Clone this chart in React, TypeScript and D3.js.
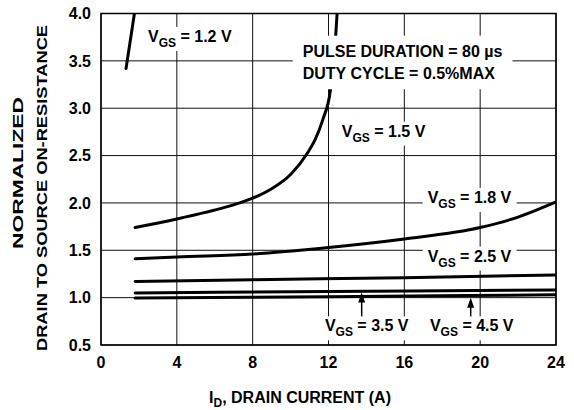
import { useEffect, useRef } from "react";
import * as d3 from "d3";

/**
 * Normalized drain-to-source on-resistance vs drain current, one curve per VGS.
 */

const W = 574;
const H = 410;
const M = { left: 101, right: 18, top: 13.5, bottom: 65 };
const FONT = "'Liberation Sans', Arial, Helvetica, sans-serif";

const X_TICKS = [0, 4, 8, 12, 16, 20, 24];
const Y_TICKS = [0.5, 1.0, 1.5, 2.0, 2.5, 3.0, 3.5, 4.0];

// [ID (A), normalized RDS(on)]
const VGS_12: [number, number][] = [[1.32, 3.42], [1.52, 3.68], [1.8, 4.05]];
const VGS_15: [number, number][] = [
  [1.8, 1.74], [4, 1.83], [5.5, 1.9], [7, 1.98], [8, 2.05], [9, 2.15], [10, 2.3],
  [10.9, 2.53], [11.3, 2.67], [11.7, 2.88], [12.1, 3.19], [12.38, 3.77], [12.47, 4.05],
];
const VGS_18: [number, number][] = [
  [1.8, 1.41], [4, 1.43], [8, 1.46], [12, 1.53], [16, 1.62], [20, 1.74], [22, 1.85], [24, 2.01],
];
const VGS_25: [number, number][] = [[1.8, 1.17], [8, 1.19], [16, 1.21], [24, 1.24]];
const VGS_35: [number, number][] = [[1.8, 1.05], [12, 1.065], [24, 1.08]];
const VGS_45: [number, number][] = [[1.8, 0.995], [12, 1.01], [24, 1.03]];

const CURVES = [VGS_12, VGS_15, VGS_18, VGS_25, VGS_35, VGS_45];

// label anchors in data units: [x, baseline y, VGS text]
const VGS_LABELS: [number, number, string][] = [
  [2.48, 3.7, "1.2"],
  [12.7, 2.7, "1.5"],
  [17.23, 2.0, "1.8"],
  [17.23, 1.38, "2.5"],
  [11.81, 0.644, "3.5"],
  [17.35, 0.644, "4.5"],
];
const NOTE_LINES = ["PULSE DURATION = 80 \u00b5s", "DUTY CYCLE = 0.5%MAX"];
const NOTE_POS: [number, number] = [10.64, 3.544];

// arrows: [x, tail y, tip y]
const ARROWS: [number, number, number][] = [
  [13.75, 0.78, 1.055],
  [19.5, 0.73, 1.0],
];

export default function App() {
  const svgRef = useRef<SVGSVGElement>(null);

  useEffect(() => {
    if (!svgRef.current) return;
    const svg = d3.select(svgRef.current);
    svg.selectAll("*").remove();

    const x = d3.scaleLinear().domain([0, 24]).range([M.left, W - M.right]);
    const y = d3.scaleLinear().domain([0.5, 4.0]).range([H - M.bottom, M.top]);

    svg.append("defs").append("clipPath").attr("id", "plot-clip")
      .append("rect")
      .attr("x", x(0)).attr("y", y(4))
      .attr("width", x(24) - x(0)).attr("height", y(0.5) - y(4));

    // grid
    const grid = svg.append("g").attr("stroke", "#111").attr("stroke-width", 1);
    X_TICKS.forEach((t) => {
      grid.append("line").attr("x1", x(t)).attr("x2", x(t)).attr("y1", y(0.5)).attr("y2", y(4));
    });
    Y_TICKS.forEach((t) => {
      grid.append("line").attr("x1", x(0)).attr("x2", x(24)).attr("y1", y(t)).attr("y2", y(t));
    });

    // curves
    const line = d3.line<[number, number]>()
      .x((d) => x(d[0]))
      .y((d) => y(d[1]))
      .curve(d3.curveMonotoneX);
    const curves = svg.append("g").attr("clip-path", "url(#plot-clip)");
    CURVES.forEach((c) => {
      curves.append("path").datum(c).attr("d", line)
        .attr("fill", "none").attr("stroke", "#000").attr("stroke-width", 3)
        .attr("stroke-linecap", "round");
    });

    // arrows
    ARROWS.forEach(([ax, y0, y1]) => {
      svg.append("line").attr("x1", x(ax)).attr("x2", x(ax))
        .attr("y1", y(y0)).attr("y2", y(y1) + 8)
        .attr("stroke", "#000").attr("stroke-width", 1.5);
      const tx = x(ax), ty = y(y1);
      svg.append("path")
        .attr("d", `M${tx},${ty} L${tx - 3.5},${ty + 10} L${tx + 3.5},${ty + 10} Z`)
        .attr("fill", "#000");
    });

    // labels with white backing
    const addBox = (g: d3.Selection<SVGGElement, unknown, null, undefined>, px: number, py: number) => {
      const node = g.node();
      if (!node) return;
      const bb = node.getBBox();
      g.insert("rect", ":first-child")
        .attr("x", bb.x - px).attr("y", bb.y - py)
        .attr("width", bb.width + 2 * px).attr("height", bb.height + 2 * py)
        .attr("fill", "#fff");
    };

    VGS_LABELS.forEach(([lx, ly, v]) => {
      const g = svg.append("g");
      const t = g.append("text")
        .attr("x", x(lx)).attr("y", y(ly))
        .attr("font-family", FONT).attr("font-weight", "bold").attr("font-size", 16);
      t.append("tspan").text("V");
      t.append("tspan").attr("font-size", 12).attr("dy", 5).text("GS");
      t.append("tspan").attr("dy", -5).text(` = ${v} V`);
      addBox(g, 5, 1);
    });

    const note = svg.append("g");
    NOTE_LINES.forEach((s, i) => {
      note.append("text")
        .attr("x", x(NOTE_POS[0])).attr("y", y(NOTE_POS[1]) + i * 22.6)
        .attr("font-family", FONT).attr("font-weight", "bold").attr("font-size", 16)
        .text(s);
    });
    addBox(note, 10, 7);

    // frame
    svg.append("rect")
      .attr("x", x(0)).attr("y", y(4))
      .attr("width", x(24) - x(0)).attr("height", y(0.5) - y(4))
      .attr("fill", "none").attr("stroke", "#000").attr("stroke-width", 1.5);

    // tick labels
    X_TICKS.forEach((t) => {
      svg.append("text")
        .attr("x", x(t)).attr("y", 368)
        .attr("text-anchor", "middle")
        .attr("font-family", FONT).attr("font-weight", "bold").attr("font-size", 16)
        .text(String(t));
    });
    Y_TICKS.forEach((t) => {
      svg.append("text")
        .attr("x", 91).attr("y", y(t))
        .attr("dy", "0.36em")
        .attr("text-anchor", "end")
        .attr("font-family", FONT).attr("font-weight", "bold").attr("font-size", 16)
        .text(d3.format(".1f")(t));
    });

    // x title
    const xt = svg.append("text")
      .attr("x", 300).attr("y", 403)
      .attr("text-anchor", "middle")
      .attr("font-family", FONT).attr("font-weight", "bold").attr("font-size", 16);
    xt.append("tspan").text("I");
    xt.append("tspan").attr("font-size", 12).attr("dy", 4).text("D");
    xt.append("tspan").attr("dy", -4).text(", DRAIN CURRENT (A)");

    // y title (stretched along its length like the original)
    svg.append("text")
      .attr("transform", "translate(23,173) rotate(-90)")
      .attr("text-anchor", "middle")
      .attr("font-family", FONT).attr("font-weight", "bold").attr("font-size", 15)
      .attr("textLength", 152).attr("lengthAdjust", "spacingAndGlyphs")
      .text("NORMALIZED");
    svg.append("text")
      .attr("transform", "translate(47,188) rotate(-90)")
      .attr("text-anchor", "middle")
      .attr("font-family", FONT).attr("font-weight", "bold").attr("font-size", 15)
      .attr("textLength", 326).attr("lengthAdjust", "spacingAndGlyphs")
      .text("DRAIN TO SOURCE ON-RESISTANCE");
  }, []);

  return (
    <svg
      ref={svgRef}
      width={W}
      height={H}
      style={{ position: "absolute", left: 0, top: 0, background: "#fff" }}
    />
  );
}
